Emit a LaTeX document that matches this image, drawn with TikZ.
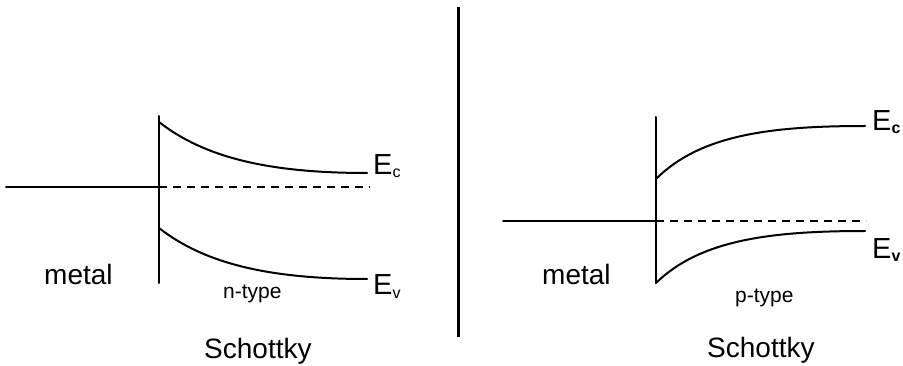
\documentclass[tikz,border=0pt]{standalone}
\usepackage{fontspec}
\setmainfont{Liberation Sans}
\newcommand{\subsc}[1]{\raisebox{-3pt}{\fontsize{16}{16}\selectfont #1}}
\begin{document}
\begin{tikzpicture}[x=1pt,y=-1pt,
  band/.style={line width=2pt,line cap=round},
  fermi/.style={line width=2pt,dashed,dash pattern=on 8pt off 6pt},
  big/.style={inner sep=0pt,anchor=base west,font=\fontsize{28}{28}\selectfont},
  small/.style={inner sep=0pt,anchor=base west,font=\fontsize{21}{21}\selectfont},
  elab/.style={inner sep=0pt,anchor=base west,font=\fontsize{29}{29}\selectfont}]
\useasboundingbox (0,0) rectangle (903,366);
% divider
\draw[line width=3pt] (458,7) -- (458,337);
% ---- left: n-type
\coordinate (lmL) at (6,187);
\coordinate (lmI) at (159,187);
\coordinate (lmR) at (370,187);
\draw[band] (lmL) -- (lmI);
\draw[fermi] (lmI) -- (lmR);
\draw[band] (159,116) -- (159,283);
\draw[band] (159,122) .. controls (205,158) and (270,173) .. (367,173);
\draw[band] (159,228) .. controls (205,264) and (270,279) .. (367,279);
\node[elab] (lEc) at (373,175) {E\subsc{c}};
\node[elab] (lEv) at (373,295) {E\subsc{v}};
\node[big] (lmetal) at (44,285) {metal};
\node[small] (ltype) at (223,299) {n-type};
\node[big] (lsch) at (204,358) {Schottky};
% ---- right: p-type
\coordinate (rmL) at (503,221);
\coordinate (rmI) at (656,221);
\coordinate (rmR) at (866,221);
\draw[band] (rmL) -- (rmI);
\draw[fermi] (rmI) -- (rmR);
\draw[band] (656,117) -- (656,283);
\draw[band] (656,179) .. controls (700,135) and (770,126) .. (865,126);
\draw[band] (656,283) .. controls (700,240) and (770,231) .. (865,231);
\node[elab] (rEc) at (872,131) {E\subsc{\bfseries c}};
\node[elab] (rEv) at (872,259) {E\subsc{\bfseries v}};
\node[big] (rmetal) at (542,285) {metal};
\node[small] (rtype) at (735,302) {p-type};
\node[big] (rsch) at (707,357) {Schottky};
\end{tikzpicture}
\end{document}
